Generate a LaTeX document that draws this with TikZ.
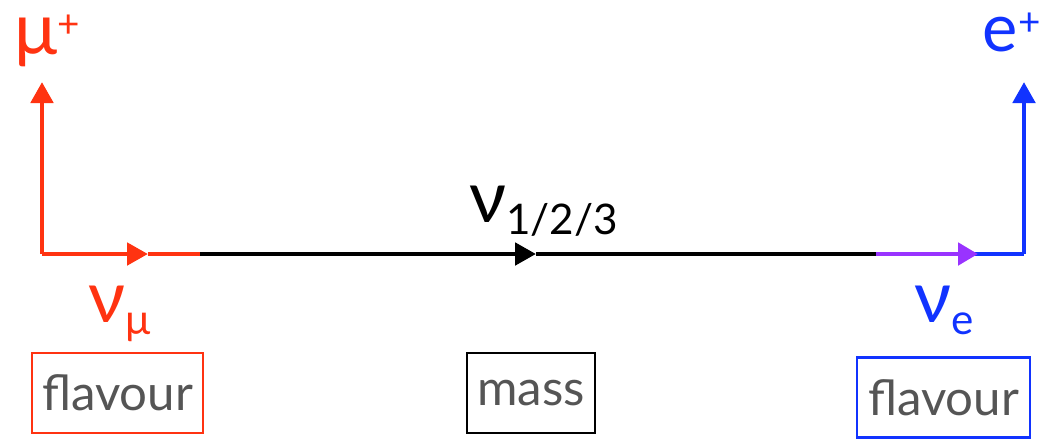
\documentclass[tikz,border=0pt]{standalone}
\usepackage{fontspec}
\setmainfont{Lato}
\usetikzlibrary{arrows.meta}
\definecolor{flred}{RGB}{255,51,17}
\definecolor{flblue}{RGB}{17,51,255}
\definecolor{flpurple}{RGB}{153,51,255}
\definecolor{boxtext}{RGB}{85,85,85}
\tikzset{
  prop/.style={line width=2.8pt},
  tip/.style={-{Triangle[length=0.42cm,width=0.44cm]}},
  label/.style={inner sep=0pt, font=\fontsize{41}{44}\selectfont},
  basisbox/.style={draw, line width=1.4pt, inner sep=0pt, text=boxtext,
    minimum height=1.6cm, font=\fontsize{28}{30}\selectfont},
}
\newcommand{\sub}[1]{\raisebox{-0.35ex}{\fontsize{24}{26}\selectfont #1}}
\newcommand{\supr}[1]{\raisebox{0.45ex}{\fontsize{22}{24}\selectfont #1}}
\begin{document}
\begin{tikzpicture}[x=0.02cm, y=-0.02cm]
    \useasboundingbox (0, 0) rectangle (1045, 440) ;
    % points along the line
    \coordinate (mu0) at (42, 254) ;
    \coordinate (mutop) at (42, 82) ;
    \coordinate (muarr) at (148, 254) ;
    \coordinate (mu1) at (200, 254) ;
    \coordinate (marr) at (536, 254) ;
    \coordinate (m1) at (876, 254) ;
    \coordinate (p1) at (919, 254) ;
    \coordinate (earr) at (978, 254) ;
    \coordinate (e0) at (1024, 254) ;
    \coordinate (etop) at (1024, 82) ;
    % labels
    \node[label, text=flred, anchor=base west] (mulab) at (14, 54) {μ\supr{+}} ;
    \node[label, text=flblue, anchor=base east, font=\fontsize{38}{40}\selectfont] (elab) at (1041, 51) {e\supr{+}} ;
    \node[label, anchor=base west] (nulab) at (469, 222) {ν\sub{1/2/3}} ;
    \node[label, text=flred, anchor=base west] (numulab) at (88, 322) {ν\sub{μ}} ;
    \node[label, text=flblue, anchor=base west] (nuelab) at (914, 322) {ν\sub{e}} ;
    % basis boxes
    \node[basisbox, draw=flred, minimum width=3.42cm] (flav1) at (117.5, 393) {flavour} ;
    \node[basisbox, draw=black, minimum width=2.56cm] (mass) at (531, 393) {mass} ;
    \node[basisbox, draw=flblue, minimum width=3.46cm] (flav2) at (943.5, 397.5) {flavour} ;
    % propagation
    \draw[prop, flred, tip] (mu0) -- (mutop) ;
    \draw[prop, flred, tip] (mu0) -- (muarr) ;
    \draw[prop, flred] (muarr) -- (mu1) ;
    \draw[prop, black, tip] (mu1) -- (marr) ;
    \draw[prop, black] (marr) -- (m1) ;
    \draw[prop, flpurple] (m1) -- (p1) ;
    \draw[prop, flblue] (p1) -- (e0) ;
    \draw[prop, flpurple, -{Triangle[length=0.4cm,width=0.44cm]}] (p1) -- (earr) ;
    \draw[prop, flblue, tip] (e0) -- (etop) ;
\end{tikzpicture}
\end{document}
